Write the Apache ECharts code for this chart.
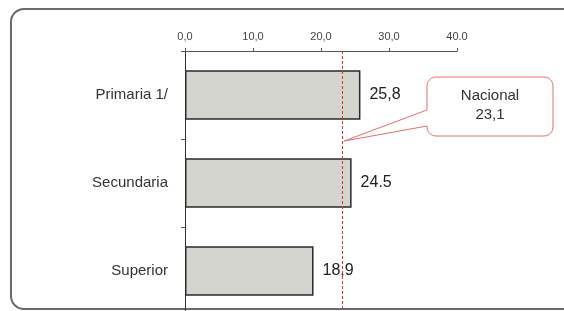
<!DOCTYPE html>
<html>
<head>
<meta charset="utf-8">
<script src="https://cdn.jsdelivr.net/npm/echarts@6/dist/echarts.min.js"></script>
<style>
html,body{margin:0;padding:0;background:#fff;}
#c{width:564px;height:311px;}
</style>
</head>
<body>
<div id="c"></div>
<script>
const categories = ['Primaria 1/', 'Secundaria', 'Superior'];
const values = [25.8, 24.5, 18.9];
const valueLabels = ['25,8', '24.5', '18,9'];
const tickLabels = ['0,0', '10,0', '20,0', '30,0', '40.0'];
const nacional = 23.1;
const nacionalLabel = ['Nacional', '23,1'];

const chart = echarts.init(document.getElementById('c'), null, {renderer: 'canvas'});
const font = 'Liberation Sans, Arial, sans-serif';

const option = {
  backgroundColor: '#fff',
  animation: false,
  grid: {left: 185, width: 272, top: 51, height: 264, containLabel: false, outerBoundsMode: 'none'},
  xAxis: {
    type: 'value', position: 'top', min: 0, max: 40, interval: 10,
    axisLine: {show: true, lineStyle: {color: '#555', width: 1}},
    axisTick: {show: true, length: 3, lineStyle: {color: '#555'}},
    splitLine: {show: false},
    axisLabel: {
      color: '#444', fontFamily: font, fontSize: 11, margin: 9,
      formatter: (v) => tickLabels[Math.round(v / 10)]
    }
  },
  yAxis: {
    type: 'category', data: categories, inverse: true,
    axisLine: {show: true, lineStyle: {color: '#333', width: 1}},
    axisTick: {show: true, length: 4, lineStyle: {color: '#555'}},
    axisLabel: {color: '#333', fontFamily: font, fontSize: 15, margin: 17}
  },
  series: [{
    type: 'bar',
    data: values,
    barCategoryGap: '44%',
    itemStyle: {color: '#d5d5d0', borderColor: '#2a2a2a', borderWidth: 1.5},
    label: {
      show: true, position: 'right', distance: 9,
      color: '#222', fontFamily: font, fontSize: 16,
      formatter: (p) => valueLabels[p.dataIndex]
    },
    markLine: {
      silent: true, symbol: 'none',
      label: {show: false},
      lineStyle: {color: '#e03030', type: [3, 2], width: 1},
      data: [{xAxis: nacional}]
    }
  }]
};
chart.setOption(option);

// Callout box for the national value
const px = chart.convertToPixel({xAxisIndex: 0}, nacional);
const py = chart.convertToPixel({yAxisIndex: 0}, categories[0]) + 46;
const bx0 = 427, by0 = 77, bx1 = 553, by1 = 136, r = 9;
const n1 = 110, n2 = 126;
function arc(cx, cy, a0, a1, pts) {
  for (let i = 0; i <= 6; i++) {
    const a = a0 + (a1 - a0) * i / 6;
    pts.push([cx + r * Math.cos(a), cy + r * Math.sin(a)]);
  }
}
const pts = [];
arc(bx1 - r, by0 + r, -Math.PI / 2, 0, pts);
arc(bx1 - r, by1 - r, 0, Math.PI / 2, pts);
arc(bx0 + r, by1 - r, Math.PI / 2, Math.PI, pts);
pts.push([bx0, n2], [px + 2, py], [bx0, n1]);
arc(bx0 + r, by0 + r, Math.PI, Math.PI * 1.5, pts);

chart.setOption({
  graphic: [
    {
      type: 'rect', silent: true, z: 0,
      shape: {x: 11, y: 9, width: 600, height: 300, r: 13},
      style: {fill: 'none', stroke: '#6a6a6a', lineWidth: 2}
    },
    {
      type: 'polygon', silent: true, z: 10,
      shape: {points: pts},
      style: {fill: '#fff', stroke: '#e07070', lineWidth: 1}
    },
    {
      type: 'text', silent: true, z: 11,
      x: (bx0 + bx1) / 2, y: (by0 + by1) / 2 - 1,
      style: {
        text: nacionalLabel.join('\n'), fill: '#333', font: '15px ' + font,
        align: 'center', verticalAlign: 'middle', lineHeight: 19
      }
    }
  ]
});
</script>
</body>
</html>
